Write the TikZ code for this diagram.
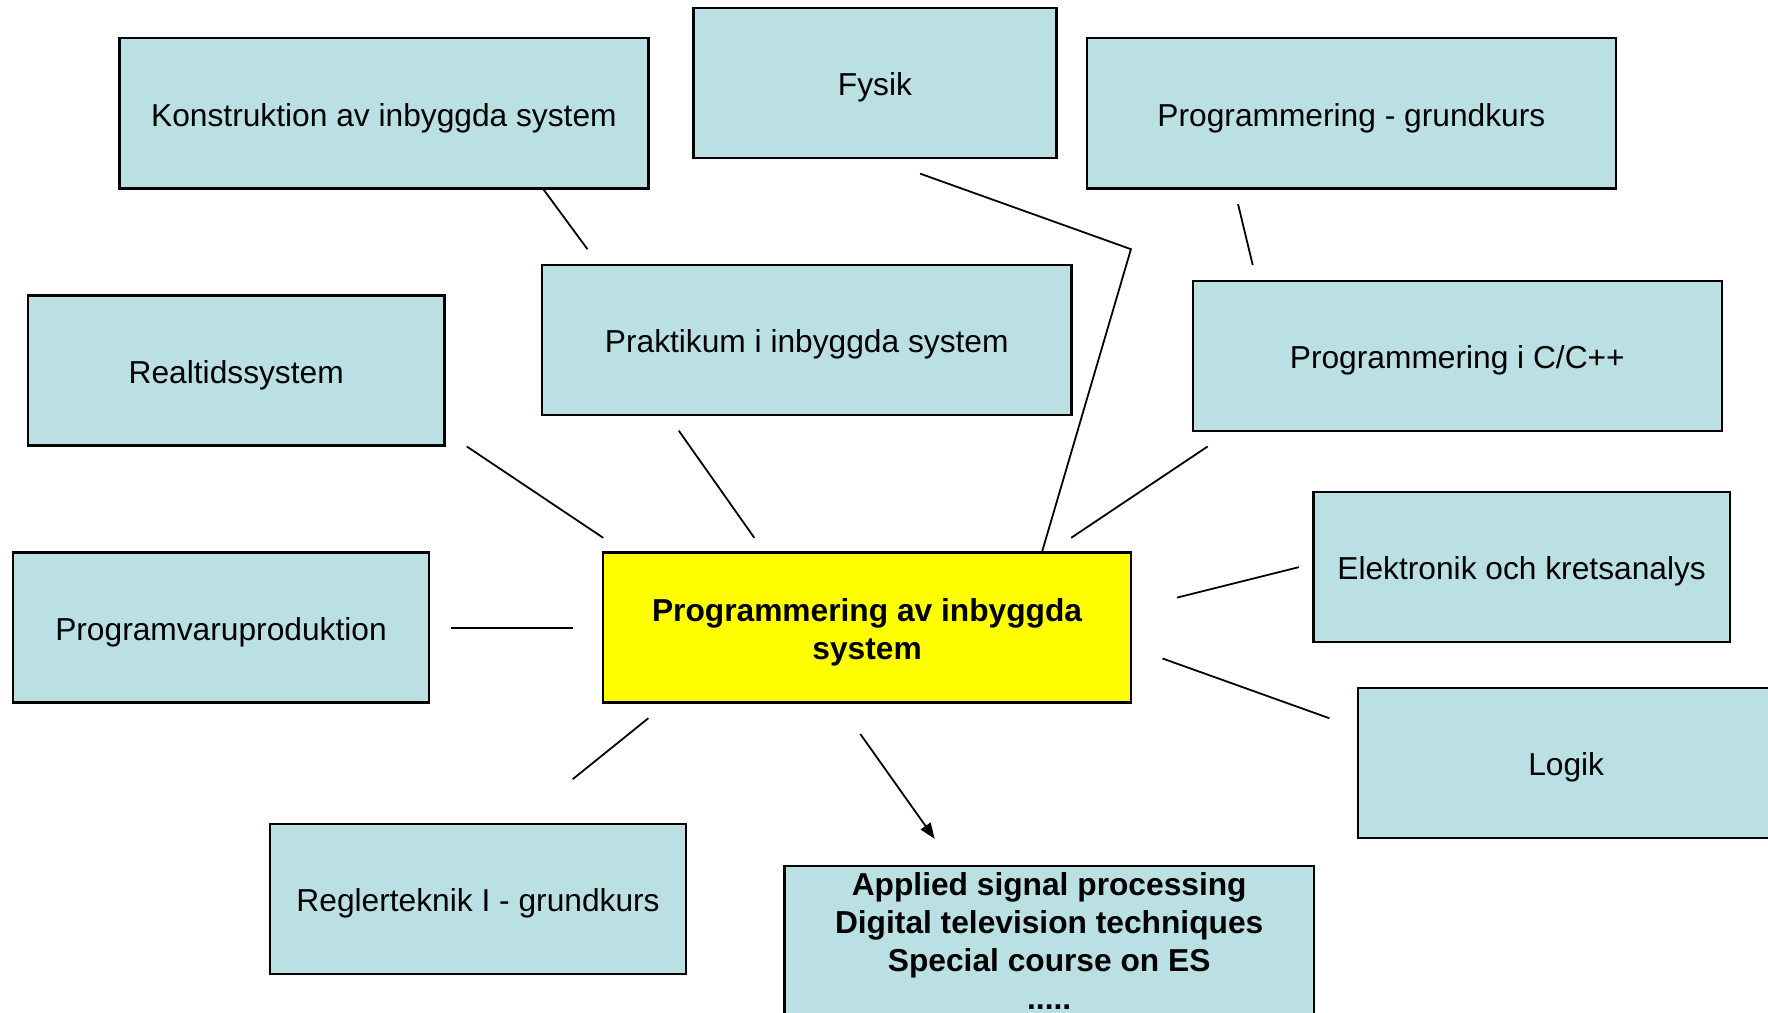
\documentclass[tikz,border=0pt]{standalone}
\usepackage{fontspec}
\setmainfont{Liberation Sans}
\usetikzlibrary{arrows.meta}
\definecolor{boxblue}{RGB}{186,224,228}
\definecolor{coreyellow}{RGB}{255,255,0}
\newcommand{\lowertext}[1]{\raisebox{-1.14pt}[\height][\depth]{#1}}
\begin{document}
\begin{tikzpicture}[x=0.01cm,y=-0.01cm,
  course/.style={draw=black, line width=0.6pt, fill=boxblue, minimum width=4.69cm,
    minimum height=1.33cm, inner sep=0pt, align=center, font=\fontsize{8}{9.6}\selectfont},
  narrow/.style={course, minimum width=3.69cm},
  core/.style={course, fill=coreyellow, font=\fontsize{8}{9.6}\selectfont\bfseries},
  link/.style={line width=0.45pt},
  arrowlink/.style={link, -{Triangle[length=4pt,width=3pt]}}
]
\useasboundingbox (0,0) rectangle (1568,898);
\clip (0,0) rectangle (1568,898);

% nodes
\node[course] (konst) at (340.5,100.5) {\lowertext{Konstruktion av inbyggda system}};
\node[course, minimum width=3.22cm] (fysik) at (776,73.5) {\lowertext{Fysik}};
\node[course] (pgrund) at (1198.5,100.5) {\lowertext{Programmering - grundkurs}};
\node[narrow] (realtid) at (209.5,328.5) {\lowertext{Realtidssystem}};
\node[course] (prakt) at (715.5,301.5) {\lowertext{Praktikum i inbyggda system}};
\node[course] (pcpp) at (1292.5,315.5) {\lowertext{Programmering i C/C++}};
\node[narrow] (pvp) at (196,556.5) {\lowertext{Programvaruproduktion}};
\node[core, minimum width=4.68cm] (main) at (769,556.5)
  {\lowertext{Programmering av inbyggda}\\\lowertext{system}};
\node[narrow] (elek) at (1349.5,503) {\lowertext{Elektronik och kretsanalys}};
\node[narrow] (logik) at (1389,676.5) {\lowertext{Logik}};
\node[narrow] (regler) at (424,797.5) {\lowertext{Reglerteknik I - grundkurs}};
\node[course, font=\fontsize{8}{9.6}\selectfont\bfseries] (applied) at (930.5,834.5)
  {Applied signal processing\\Digital television techniques\\Special course on ES\\.....};

% connector end points
\coordinate (k1) at (482,168);  \coordinate (k2) at (521,221);
\coordinate (f1) at (816,154);  \coordinate (fb) at (1003,221); \coordinate (f2) at (924,490);
\coordinate (g1) at (1098,181); \coordinate (g2) at (1111,235);
\coordinate (r1) at (414,396);  \coordinate (r2) at (535,477);
\coordinate (p1) at (602,382);  \coordinate (p2) at (669,477);
\coordinate (c1) at (1071,396); \coordinate (c2) at (950,477);
\coordinate (v1) at (400,557);  \coordinate (v2) at (508,557);
\coordinate (e1) at (1152,503); \coordinate (e2) at (1044,530);
\coordinate (l1) at (1179,637); \coordinate (l2) at (1031,584);
\coordinate (q1) at (508,691);  \coordinate (q2) at (575,637);
\coordinate (a1) at (763,651);  \coordinate (a2) at (829,744);

% connectors
\draw[link] (k1) -- (k2);
\draw[link] (f1) -- (fb) -- (f2);
\draw[link] (g1) -- (g2);
\draw[link] (r1) -- (r2);
\draw[link] (p1) -- (p2);
\draw[link] (c1) -- (c2);
\draw[link] (v1) -- (v2);
\draw[link] (e1) -- (e2);
\draw[link] (l1) -- (l2);
\draw[link] (q1) -- (q2);
\draw[arrowlink] (a1) -- (a2);
\end{tikzpicture}
\end{document}
